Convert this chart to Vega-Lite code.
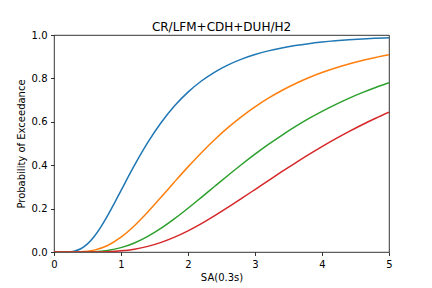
{
  "$schema": "https://vega.github.io/schema/vega-lite/v6.json",
  "width": 335,
  "height": 217,
  "autosize": {"type": "none"},
  "padding": {"left": 54, "top": 35, "right": 43, "bottom": 36},
  "background": "white",
  "config": {
    "font": "DejaVu Sans",
    "view": {"stroke": "black", "strokeWidth": 0.8},
    "axis": {
      "grid": false,
      "domain": false,
      "tickColor": "black",
      "tickWidth": 0.8,
      "tickSize": 3.5,
      "labelPadding": 3.5,
      "labelFlush": false,
      "labelOverlap": false,
      "labelFont": "DejaVu Sans",
      "labelFontSize": 10,
      "labelColor": "black",
      "titleFont": "DejaVu Sans",
      "titleFontSize": 10,
      "titleFontWeight": "normal",
      "titleColor": "black"
    }
  },
  "title": {"text": "CR/LFM+CDH+DUH/H2", "font": "DejaVu Sans", "fontSize": 12, "fontWeight": "normal", "color": "black", "offset": -4},
  "data": {"values": [
    {"curve": "A", "sa": 0, "p": 0},
    {"curve": "A", "sa": 0.2, "p": 0.0004},
    {"curve": "A", "sa": 0.3, "p": 0.0038},
    {"curve": "A", "sa": 0.4, "p": 0.015},
    {"curve": "A", "sa": 0.5, "p": 0.0375},
    {"curve": "A", "sa": 0.6, "p": 0.0717},
    {"curve": "A", "sa": 0.7, "p": 0.116},
    {"curve": "A", "sa": 0.8, "p": 0.1679},
    {"curve": "A", "sa": 0.9, "p": 0.2245},
    {"curve": "A", "sa": 1.0, "p": 0.2831},
    {"curve": "A", "sa": 1.2, "p": 0.3989},
    {"curve": "A", "sa": 1.4, "p": 0.505},
    {"curve": "A", "sa": 1.6, "p": 0.5968},
    {"curve": "A", "sa": 1.8, "p": 0.6738},
    {"curve": "A", "sa": 2.0, "p": 0.7369},
    {"curve": "A", "sa": 2.2, "p": 0.7881},
    {"curve": "A", "sa": 2.4, "p": 0.8294},
    {"curve": "A", "sa": 2.6, "p": 0.8624},
    {"curve": "A", "sa": 2.8, "p": 0.8888},
    {"curve": "A", "sa": 3.0, "p": 0.9099},
    {"curve": "A", "sa": 3.2, "p": 0.9269},
    {"curve": "A", "sa": 3.4, "p": 0.9404},
    {"curve": "A", "sa": 3.6, "p": 0.9513},
    {"curve": "A", "sa": 3.8, "p": 0.9601},
    {"curve": "A", "sa": 4.0, "p": 0.9672},
    {"curve": "A", "sa": 4.2, "p": 0.973},
    {"curve": "A", "sa": 4.4, "p": 0.9777},
    {"curve": "A", "sa": 4.6, "p": 0.9815},
    {"curve": "A", "sa": 4.8, "p": 0.9846},
    {"curve": "A", "sa": 5.0, "p": 0.9871},
    {"curve": "B", "sa": 0, "p": 0},
    {"curve": "B", "sa": 0.2, "p": 0.0000},
    {"curve": "B", "sa": 0.4, "p": 0.001},
    {"curve": "B", "sa": 0.6, "p": 0.0086},
    {"curve": "B", "sa": 0.8, "p": 0.0301},
    {"curve": "B", "sa": 1.0, "p": 0.0684},
    {"curve": "B", "sa": 1.2, "p": 0.1213},
    {"curve": "B", "sa": 1.4, "p": 0.1845},
    {"curve": "B", "sa": 1.6, "p": 0.2532},
    {"curve": "B", "sa": 1.8, "p": 0.3235},
    {"curve": "B", "sa": 2.0, "p": 0.3923},
    {"curve": "B", "sa": 2.2, "p": 0.4578},
    {"curve": "B", "sa": 2.4, "p": 0.5185},
    {"curve": "B", "sa": 2.6, "p": 0.574},
    {"curve": "B", "sa": 2.8, "p": 0.6242},
    {"curve": "B", "sa": 3.0, "p": 0.6691},
    {"curve": "B", "sa": 3.2, "p": 0.7091},
    {"curve": "B", "sa": 3.4, "p": 0.7444},
    {"curve": "B", "sa": 3.6, "p": 0.7755},
    {"curve": "B", "sa": 3.8, "p": 0.8029},
    {"curve": "B", "sa": 4.0, "p": 0.8269},
    {"curve": "B", "sa": 4.2, "p": 0.8479},
    {"curve": "B", "sa": 4.4, "p": 0.8663},
    {"curve": "B", "sa": 4.6, "p": 0.8824},
    {"curve": "B", "sa": 4.8, "p": 0.8964},
    {"curve": "B", "sa": 5.0, "p": 0.9087},
    {"curve": "C", "sa": 0, "p": 0},
    {"curve": "C", "sa": 0.4, "p": 0.0001},
    {"curve": "C", "sa": 0.6, "p": 0.0016},
    {"curve": "C", "sa": 0.8, "p": 0.0073},
    {"curve": "C", "sa": 1.0, "p": 0.0201},
    {"curve": "C", "sa": 1.2, "p": 0.0417},
    {"curve": "C", "sa": 1.4, "p": 0.072},
    {"curve": "C", "sa": 1.6, "p": 0.1099},
    {"curve": "C", "sa": 1.8, "p": 0.1538},
    {"curve": "C", "sa": 2.0, "p": 0.2017},
    {"curve": "C", "sa": 2.2, "p": 0.252},
    {"curve": "C", "sa": 2.4, "p": 0.3031},
    {"curve": "C", "sa": 2.6, "p": 0.3537},
    {"curve": "C", "sa": 2.8, "p": 0.4031},
    {"curve": "C", "sa": 3.0, "p": 0.4506},
    {"curve": "C", "sa": 3.2, "p": 0.4957},
    {"curve": "C", "sa": 3.4, "p": 0.538},
    {"curve": "C", "sa": 3.6, "p": 0.5775},
    {"curve": "C", "sa": 3.8, "p": 0.6143},
    {"curve": "C", "sa": 4.0, "p": 0.6482},
    {"curve": "C", "sa": 4.2, "p": 0.6794},
    {"curve": "C", "sa": 4.4, "p": 0.7081},
    {"curve": "C", "sa": 4.6, "p": 0.7343},
    {"curve": "C", "sa": 4.8, "p": 0.7582},
    {"curve": "C", "sa": 5.0, "p": 0.7799},
    {"curve": "D", "sa": 0, "p": 0},
    {"curve": "D", "sa": 0.4, "p": 0.0000},
    {"curve": "D", "sa": 0.6, "p": 0.0002},
    {"curve": "D", "sa": 0.8, "p": 0.0015},
    {"curve": "D", "sa": 1.0, "p": 0.0053},
    {"curve": "D", "sa": 1.2, "p": 0.013},
    {"curve": "D", "sa": 1.4, "p": 0.0259},
    {"curve": "D", "sa": 1.6, "p": 0.0444},
    {"curve": "D", "sa": 1.8, "p": 0.0684},
    {"curve": "D", "sa": 2.0, "p": 0.0974},
    {"curve": "D", "sa": 2.2, "p": 0.1307},
    {"curve": "D", "sa": 2.4, "p": 0.1673},
    {"curve": "D", "sa": 2.6, "p": 0.2063},
    {"curve": "D", "sa": 2.8, "p": 0.2468},
    {"curve": "D", "sa": 3.0, "p": 0.288},
    {"curve": "D", "sa": 3.2, "p": 0.3294},
    {"curve": "D", "sa": 3.4, "p": 0.3701},
    {"curve": "D", "sa": 3.6, "p": 0.41},
    {"curve": "D", "sa": 3.8, "p": 0.4486},
    {"curve": "D", "sa": 4.0, "p": 0.4856},
    {"curve": "D", "sa": 4.2, "p": 0.521},
    {"curve": "D", "sa": 4.4, "p": 0.5546},
    {"curve": "D", "sa": 4.6, "p": 0.5864},
    {"curve": "D", "sa": 4.8, "p": 0.6162},
    {"curve": "D", "sa": 5.0, "p": 0.6442}
  ]},
  "mark": {"type": "line", "strokeWidth": 1.5, "interpolate": "monotone", "clip": true},
  "encoding": {
    "x": {"field": "sa", "type": "quantitative", "title": "SA(0.3s)",
          "scale": {"domain": [0, 5], "nice": false, "zero": false},
          "axis": {"values": [0, 1, 2, 3, 4, 5], "format": "d", "titlePadding": 3}},
    "y": {"field": "p", "type": "quantitative", "title": "Probability of Exceedance",
          "scale": {"domain": [0, 1], "nice": false},
          "axis": {"values": [0, 0.2, 0.4, 0.6, 0.8, 1.0], "format": ".1f", "titlePadding": 5}},
    "color": {"field": "curve", "type": "nominal",
              "scale": {"domain": ["A", "B", "C", "D"], "range": ["#1f77b4", "#ff7f0e", "#2ca02c", "#d62728"]},
              "legend": null}
  }
}
